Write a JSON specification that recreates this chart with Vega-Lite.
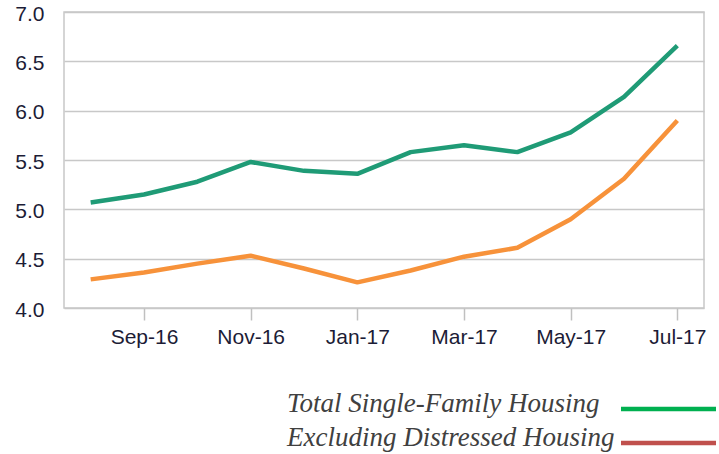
{
  "$schema": "https://vega.github.io/schema/vega-lite/v6.json",
  "width": 640,
  "height": 296,
  "autosize": {"type": "none"},
  "padding": {"left": 64, "top": 12, "right": 15, "bottom": 146},
  "background": "white",
  "config": {
    "view": {"stroke": "#c8c8c8", "strokeWidth": 1.5},
    "axis": {"labelFont": "Liberation Sans", "labelFontSize": 21, "labelColor": "#1c1c36", "title": null}
  },
  "data": {
    "values": [
      {"month": "Aug-16", "series": "Total Single-Family Housing", "value": 5.07},
      {"month": "Sep-16", "series": "Total Single-Family Housing", "value": 5.15},
      {"month": "Oct-16", "series": "Total Single-Family Housing", "value": 5.28},
      {"month": "Nov-16", "series": "Total Single-Family Housing", "value": 5.48},
      {"month": "Dec-16", "series": "Total Single-Family Housing", "value": 5.39},
      {"month": "Jan-17", "series": "Total Single-Family Housing", "value": 5.36},
      {"month": "Feb-17", "series": "Total Single-Family Housing", "value": 5.58},
      {"month": "Mar-17", "series": "Total Single-Family Housing", "value": 5.65},
      {"month": "Apr-17", "series": "Total Single-Family Housing", "value": 5.58},
      {"month": "May-17", "series": "Total Single-Family Housing", "value": 5.78},
      {"month": "Jun-17", "series": "Total Single-Family Housing", "value": 6.14},
      {"month": "Jul-17", "series": "Total Single-Family Housing", "value": 6.66},
      {"month": "Aug-16", "series": "Excluding Distressed Housing", "value": 4.29},
      {"month": "Sep-16", "series": "Excluding Distressed Housing", "value": 4.36},
      {"month": "Oct-16", "series": "Excluding Distressed Housing", "value": 4.45},
      {"month": "Nov-16", "series": "Excluding Distressed Housing", "value": 4.53},
      {"month": "Dec-16", "series": "Excluding Distressed Housing", "value": 4.40},
      {"month": "Jan-17", "series": "Excluding Distressed Housing", "value": 4.26},
      {"month": "Feb-17", "series": "Excluding Distressed Housing", "value": 4.38},
      {"month": "Mar-17", "series": "Excluding Distressed Housing", "value": 4.52},
      {"month": "Apr-17", "series": "Excluding Distressed Housing", "value": 4.61},
      {"month": "May-17", "series": "Excluding Distressed Housing", "value": 4.90},
      {"month": "Jun-17", "series": "Excluding Distressed Housing", "value": 5.31},
      {"month": "Jul-17", "series": "Excluding Distressed Housing", "value": 5.90}
    ]
  },
  "encoding": {
    "x": {
      "field": "month",
      "type": "ordinal",
      "sort": ["Aug-16","Sep-16","Oct-16","Nov-16","Dec-16","Jan-17","Feb-17","Mar-17","Apr-17","May-17","Jun-17","Jul-17"],
      "scale": {"type": "point", "padding": 0.5},
      "axis": {
        "values": ["Sep-16","Nov-16","Jan-17","Mar-17","May-17","Jul-17"],
        "labelAngle": 0,
        "grid": false,
        "domain": false,
        "tickSize": 12,
        "tickColor": "#c0c0c0",
        "tickWidth": 1.5,
        "labelPadding": 6
      }
    },
    "y": {
      "field": "value",
      "type": "quantitative",
      "scale": {"domain": [4, 7], "nice": false, "zero": false},
      "axis": {
        "values": [4, 4.5, 5, 5.5, 6, 6.5, 7],
        "format": ".1f",
        "grid": true,
        "gridColor": "#c8c8c8",
        "gridWidth": 1.5,
        "domain": false,
        "ticks": false,
        "labelPadding": 20,
        "labelOffset": 2
      }
    }
  },
  "layer": [
    {
      "mark": {"type": "line", "strokeWidth": 4.5, "strokeOpacity": 0},
      "encoding": {
        "stroke": {
          "field": "series",
          "type": "nominal",
          "sort": ["Total Single-Family Housing", "Excluding Distressed Housing"],
          "scale": {"domain": ["Total Single-Family Housing", "Excluding Distressed Housing"], "range": ["#00b050", "#c0504d"]},
          "legend": {
            "orient": "none",
            "legendX": 591,
            "legendY": 378,
            "title": null,
            "symbolType": "M-9.5,1.1H9.5",
            "symbolSize": 100,
            "symbolStrokeWidth": 4.5,
            "labelFont": "Liberation Serif",
            "labelFontStyle": "italic",
            "labelFontSize": 27,
            "labelColor": "#404040",
            "labelAlign": "left",
            "labelOffset": -395,
            "labelLimit": 0,
            "rowPadding": 5,
            "encode": {
              "symbols": {
                "update": {
                  "strokeOpacity": {"value": 1}
                }
              }
            }
          }
        }
      }
    },
    {
      "mark": {"type": "line", "strokeWidth": 4.5, "strokeJoin": "round"},
      "encoding": {
        "color": {
          "field": "series",
          "type": "nominal",
          "sort": ["Total Single-Family Housing", "Excluding Distressed Housing"],
          "scale": {"domain": ["Total Single-Family Housing", "Excluding Distressed Housing"], "range": ["#1f9b76", "#f7923a"]},
          "legend": null
        }
      }
    }
  ]
}
